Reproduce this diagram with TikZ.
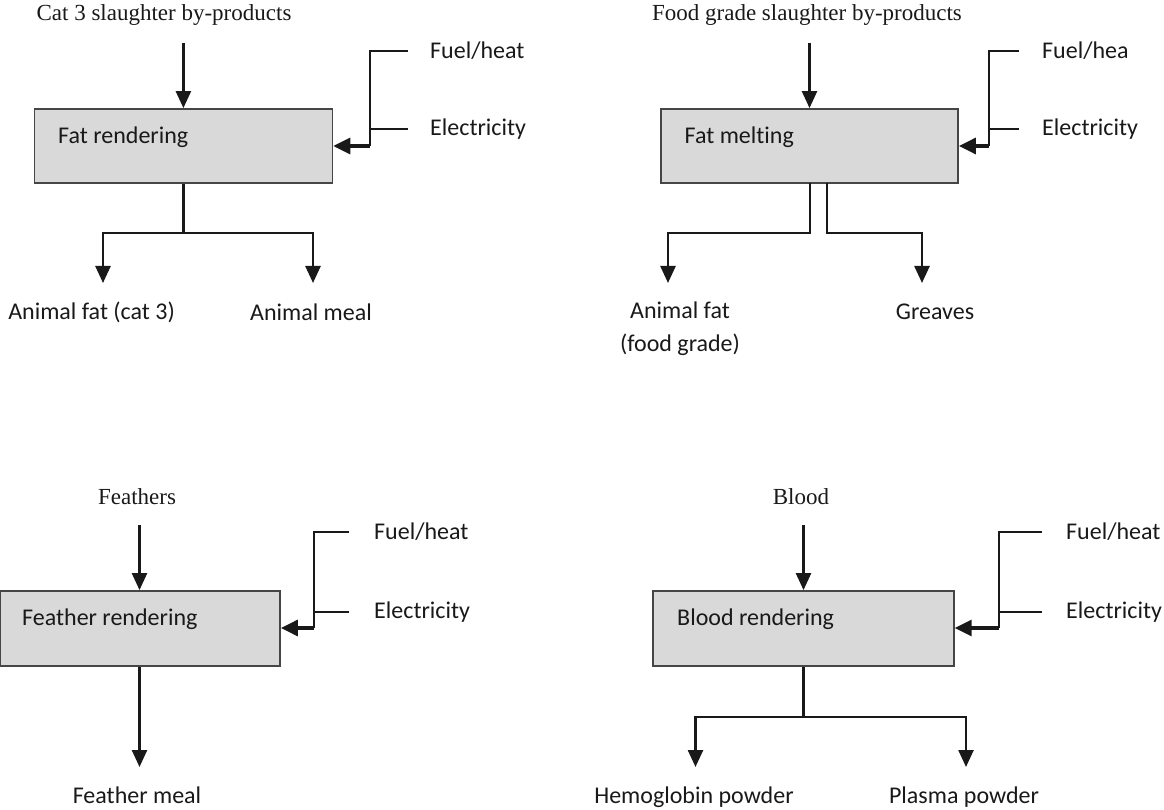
\documentclass[tikz,border=0pt]{standalone}
\usepackage{fontspec}
\setmainfont{Liberation Serif}
\newfontfamily\sansfnt[Ligatures={NoCommon}]{Carlito}
\usetikzlibrary{arrows.meta}
\definecolor{boxfill}{RGB}{217,217,217}
\definecolor{boxdraw}{RGB}{70,70,70}
\definecolor{ink}{RGB}{25,25,25}
\tikzset{
  procbox/.style={draw=boxdraw, line width=1.8pt, fill=boxfill, rectangle, inner sep=0pt},
  lbl/.style={font=\sansfnt\fontsize{24}{33}\selectfont, text=ink, inner sep=0pt},
  ttl/.style={font=\fontsize{23}{28}\selectfont, text=ink, inner sep=0pt},
  feed/.style={draw=ink, line width=2pt},
  flow/.style={draw=ink, line width=2.5pt},
  arr/.style={draw=ink, line width=2.5pt, -{Triangle[length=17pt,width=15pt]}},
  harr/.style={draw=ink, line width=3.2pt, -{Triangle[length=17pt,width=16pt]}}
}
\begin{document}
\begin{tikzpicture}[x=1pt,y=-1pt]
\useasboundingbox (0,0) rectangle (1164,810);

% ---------- Panel 1 ----------
\node[ttl] (t1) at (164,15) {Cat 3 slaughter by-products};
\node[procbox, minimum width=298pt, minimum height=74pt] (b1) at (183.4,146) {};
\node[lbl, anchor=west] (b1t) at (58,137) {Fat rendering};
\coordinate (i1) at (183.4,43);
\draw[arr] (i1) -- (b1.north);
\node[lbl, anchor=west] (f1) at (430,51) {Fuel/heat};
\node[lbl, anchor=west] (e1) at (430,129) {Electricity};
\coordinate (f1e) at (408,51);
\coordinate (e1e) at (408,129);
\coordinate (j1) at (370,146);
\draw[feed] (f1e) -| (j1);
\draw[feed] (e1e) -- (e1e -| j1);
\draw[harr] (j1) -- (b1.east |- j1);
\coordinate (s1) at (183.4,233);
\coordinate (a1) at (103,283);
\coordinate (a2) at (313,283);
\draw[flow] (b1.south) -- (s1);
\draw[arr] (s1) -| (a1);
\draw[arr] (s1) -| (a2);
\node[lbl] (o1) at (91.6,312) {Animal fat (cat 3)};
\node[lbl] (o2) at (311,312) {Animal meal};

% ---------- Panel 2 ----------
\node[ttl] (t2) at (807,15) {Food grade slaughter by-products};
\node[procbox, minimum width=297pt, minimum height=74pt] (b2) at (809.5,146) {};
\node[lbl, anchor=west] (b2t) at (684.5,137) {Fat melting};
\coordinate (i2) at (809.5,43);
\draw[arr] (i2) -- (b2.north);
\node[lbl, anchor=west] (f2) at (1042,51) {Fuel/hea};
\node[lbl, anchor=west] (e2) at (1042,129) {Electricity};
\coordinate (f2e) at (1019,51);
\coordinate (e2e) at (1019,129);
\coordinate (j2) at (989,146);
\draw[feed] (f2e) -| (j2);
\draw[feed] (e2e) -- (e2e -| j2);
\draw[harr] (j2) -- (b2.east |- j2);
\coordinate (s2a) at (810,183);
\coordinate (s2b) at (827,183);
\coordinate (a3) at (668,283);
\coordinate (a4) at (922,283);
\draw[arr] (s2a) |- (668,233) -- (a3);
\draw[arr] (s2b) |- (922,233) -- (a4);
\node[lbl, align=center] (o3) at (680,328.5) {Animal fat\\(food grade)};
\node[lbl] (o4) at (935,312) {Greaves};

% ---------- Panel 3 ----------
\node[ttl] (t3) at (137,497) {Feathers};
\node[procbox, minimum width=280pt, minimum height=75pt] (b3) at (140,628.5) {};
\node[lbl, anchor=west] (b3t) at (22,619) {Feather rendering};
\coordinate (i3) at (139.5,525);
\draw[arr] (i3) -- (i3 |- b3.north);
\node[lbl, anchor=west] (f3) at (374,532) {Fuel/heat};
\node[lbl, anchor=west] (e3) at (374,612) {Electricity};
\coordinate (f3e) at (349,532);
\coordinate (e3e) at (349,612);
\coordinate (j3) at (314,628);
\draw[feed] (f3e) -| (j3);
\draw[feed] (e3e) -- (e3e -| j3);
\draw[harr] (j3) -- (b3.east |- j3);
\coordinate (a5) at (139.5,767);
\draw[arr] (a5 |- b3.south) -- (a5);
\node[lbl] (o5) at (137,795) {Feather meal};

% ---------- Panel 4 ----------
\node[ttl] (t4) at (801,497) {Blood};
\node[procbox, minimum width=301pt, minimum height=75pt] (b4) at (803.3,628.5) {};
\node[lbl, anchor=west] (b4t) at (677,619) {Blood rendering};
\coordinate (i4) at (803.5,525);
\draw[arr] (i4) -- (i4 |- b4.north);
\node[lbl, anchor=west] (f4) at (1066,532) {Fuel/heat};
\node[lbl, anchor=west] (e4) at (1066,612) {Electricity};
\coordinate (f4e) at (1042,532);
\coordinate (e4e) at (1042,612);
\coordinate (j4) at (999,628);
\draw[feed] (f4e) -| (j4);
\draw[feed] (e4e) -- (e4e -| j4);
\draw[harr] (j4) -- (b4.east |- j4);
\coordinate (s4) at (803.5,717);
\coordinate (a6) at (695.5,767);
\coordinate (a7) at (966,767);
\draw[flow] (s4 |- b4.south) -- (s4);
\draw[arr] (s4) -| (a6);
\draw[arr] (s4) -| (a7);
\node[lbl] (o6) at (694,797) {Hemoglobin powder};
\node[lbl] (o7) at (964,797) {Plasma powder};
\end{tikzpicture}
\end{document}
